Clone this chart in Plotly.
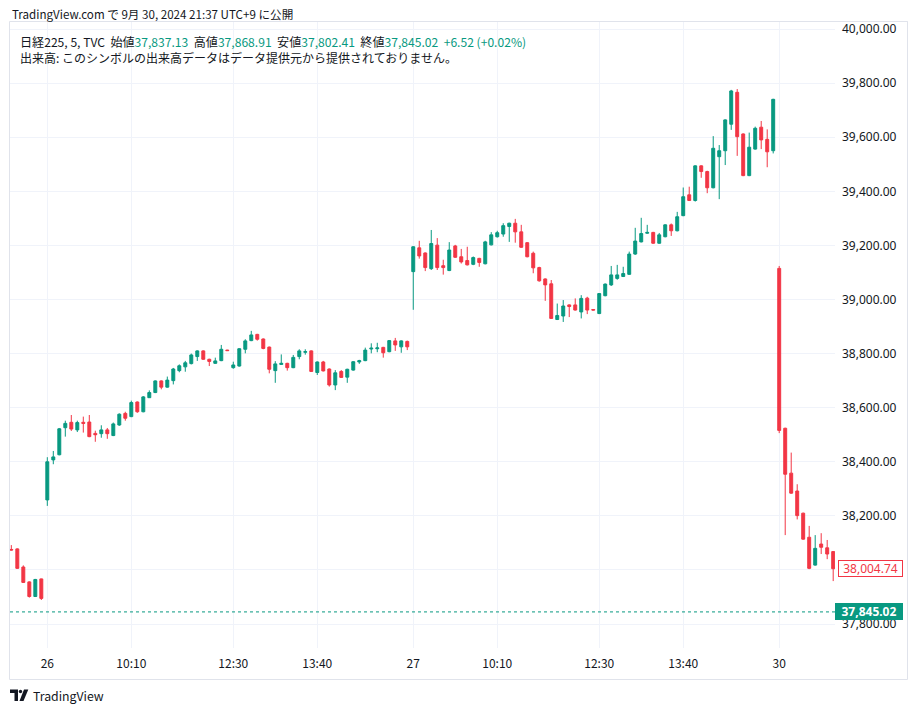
import plotly.graph_objects as go

# ---------------- data ----------------
# sessions (day, list of (start, end) in HH:MM inclusive, 5-min bars)
SESSIONS = [
    (25, [("14:30", "14:55")]),
    (26, [("09:00", "11:30"), ("12:30", "14:55")]),
    (27, [("09:00", "11:30"), ("12:30", "14:55")]),
    (30, [("09:00", "09:45")]),
]

open_ = [
    38076, 38078, 38011, 37956, 37902, 37967,
    38259, 38407, 38426, 38526, 38546, 38518, 38546, 38547, 38505, 38504,
    38518, 38497, 38536, 38579, 38567, 38621, 38585, 38637, 38656, 38699,
    38676, 38700, 38737, 38751, 38763, 38789, 38810, 38779, 38764, 38774,
    38813, 38748, 38754, 38816, 38848, 38871, 38854, 38824, 38737, 38760,
    38764, 38748, 38789, 38805, 38810, 38730, 38769, 38743, 38684, 38734,
    38713, 38739, 38769, 38774, 38817, 38818, 38823, 38807, 38847, 38825,
    38845,
    39103, 39191, 39172, 39114, 39201, 39125, 39107, 39198, 39158, 39144,
    39130, 39152, 39132, 39202, 39232, 39242, 39270, 39282, 39250, 39210,
    39171, 39118, 39076, 39058, 38926, 38939, 38980, 38980, 38954, 39005,
    38963, 38948, 39014, 39054, 39078, 39085, 39093, 39168, 39213, 39245,
    39248, 39208, 39232, 39276, 39254, 39310, 39387, 39366, 39494, 39473,
    39413, 39528, 39550, 39648, 39766, 39612, 39458, 39556, 39637, 39592,
    39550,
    39115, 38524, 38358, 38292, 38210, 38121, 38018, 38096, 38082, 38068,
]
high = [
    38092, 38080, 38017, 37958, 37967, 37968,
    38417, 38440, 38525, 38552, 38573, 38552, 38567, 38573, 38515, 38535,
    38525, 38545, 38579, 38585, 38626, 38623, 38643, 38664, 38701, 38701,
    38715, 38747, 38760, 38773, 38800, 38812, 38812, 38781, 38785, 38832,
    38814, 38770, 38820, 38853, 38884, 38873, 38856, 38826, 38772, 38797,
    38766, 38795, 38816, 38816, 38812, 38771, 38773, 38745, 38739, 38739,
    38744, 38772, 38777, 38822, 38838, 38840, 38825, 38850, 38858, 38849,
    38848,
    39197, 39217, 39174, 39257, 39227, 39147, 39212, 39202, 39187, 39195,
    39159, 39154, 39217, 39249, 39254, 39282, 39284, 39298, 39276, 39212,
    39177, 39121, 39078, 39072, 38985, 38998, 38982, 39004, 39016, 39010,
    38964, 39024, 39059, 39124, 39128, 39121, 39177, 39265, 39302, 39276,
    39250, 39246, 39278, 39281, 39324, 39414, 39417, 39496, 39496, 39476,
    39604, 39571, 39666, 39775, 39778, 39614, 39617, 39639, 39660, 39629,
    39742,
    39124, 38526, 38434, 38317, 38212, 38163, 38129, 38136, 38111, 38070,
]
low = [
    38072, 38004, 37952, 37898, 37900, 37889,
    38237, 38391, 38424, 38493, 38514, 38510, 38508, 38491, 38474, 38489,
    38485, 38495, 38533, 38552, 38565, 38581, 38583, 38636, 38654, 38668,
    38674, 38686, 38731, 38733, 38760, 38773, 38777, 38754, 38762, 38772,
    38810, 38744, 38752, 38801, 38846, 38848, 38816, 38727, 38692, 38758,
    38737, 38746, 38779, 38796, 38732, 38721, 38734, 38678, 38665, 38710,
    38692, 38737, 38762, 38772, 38801, 38805, 38785, 38805, 38810, 38803,
    38813,
    38962, 39151, 39105, 39109, 39109, 39092, 39105, 39154, 39133, 39126,
    39127, 39121, 39130, 39200, 39229, 39232, 39213, 39210, 39191, 39156,
    39097, 39066, 38995, 38928, 38924, 38917, 38935, 38959, 38930, 38946,
    38960, 38946, 39012, 39050, 39073, 39083, 39091, 39165, 39211, 39243,
    39206, 39206, 39230, 39235, 39252, 39308, 39364, 39362, 39450, 39393,
    39411, 39371, 39497, 39627, 39531, 39456, 39456, 39554, 39556, 39489,
    39540,
    38506, 38129, 38282, 38187, 38112, 38003, 38016, 38059, 38040, 37959,
]
close = [
    38074, 38006, 37954, 37902, 37965, 37895,
    38400, 38418, 38522, 38542, 38521, 38545, 38542, 38493, 38500, 38518,
    38504, 38540, 38576, 38561, 38619, 38585, 38640, 38656, 38699, 38676,
    38702, 38743, 38755, 38766, 38795, 38810, 38779, 38771, 38773, 38816,
    38811, 38758, 38818, 38847, 38869, 38853, 38819, 38742, 38762, 38764,
    38748, 38786, 38810, 38807, 38734, 38769, 38736, 38684, 38729, 38712,
    38742, 38770, 38774, 38813, 38820, 38821, 38803, 38848, 38832, 38847,
    38825,
    39195, 39161, 39118, 39207, 39118, 39118, 39183, 39156, 39139, 39128,
    39155, 39137, 39213, 39239, 39247, 39273, 39282, 39250, 39193, 39158,
    39117, 39069, 39054, 38930, 38941, 38976, 38974, 38961, 39004, 38961,
    38961, 39022, 39057, 39091, 39091, 39096, 39168, 39216, 39244, 39248,
    39208, 39239, 39276, 39254, 39306, 39380, 39366, 39494, 39473, 39413,
    39559, 39550, 39664, 39771, 39602, 39458, 39563, 39633, 39590, 39546,
    39740,
    38516, 38354, 38284, 38201, 38114, 38006, 38080, 38084, 38059, 38004.74,
]

tick_times = ["09-26 09:00", "09-26 10:10", "09-26 12:30", "09-26 13:40",
              "09-27 09:00", "09-27 10:10", "09-27 12:30", "09-27 13:40",
              "09-30 09:00"]
tick_labels = ["26", "10:10", "12:30", "13:40", "27", "10:10", "12:30", "13:40", "30"]

last_price = 37845.02
last_visible_close = 38004.74

header_text = "TradingView.com で 9月 30, 2024 21:37 UTC+9 に公開"
UP = "#089981"
DOWN = "#f23645"
TXT = "#131722"
SP = "&nbsp;&nbsp;"
legend_line1 = ("日経225, 5, TVC" + SP + "始値<span style='color:%s'>37,837.13</span>" + SP +
                "高値<span style='color:%s'>37,868.91</span>" + SP +
                "安値<span style='color:%s'>37,802.41</span>" + SP +
                "終値<span style='color:%s'>37,845.02" + SP + "+6.52 (+0.02%%)</span>") % (UP, UP, UP, UP)
legend_line2 = "出来高: このシンボルの出来高データはデータ提供元から提供されておりません。"


def to_min(s):
    h, m = s.split(":")
    return int(h) * 60 + int(m)


times = []
for day, sess in SESSIONS:
    for a, b in sess:
        t = to_min(a)
        while t <= to_min(b):
            times.append("09-%02d %02d:%02d" % (day, t // 60, t % 60))
            t += 5

# ---------------- figure ----------------
W, H = 917, 714
L, R, T, B = 10, 82, 22, 66
PW, PH = W - L - R, H - T - B


def px(x):
    return (x - L) / PW


def py(y):
    return (H - B - y) / PH


FONT = "Noto Sans CJK JP, Noto Sans, sans-serif"
NUMFONT = "Noto Sans, sans-serif"

fig = go.Figure(go.Candlestick(
    x=times, open=open_, high=high, low=low, close=close,
    increasing=dict(line=dict(color=UP, width=1), fillcolor=UP),
    decreasing=dict(line=dict(color=DOWN, width=1), fillcolor=DOWN),
    whiskerwidth=0, hoverinfo="skip", showlegend=False,
))

fig.update_layout(
    width=W, height=H,
    margin=dict(l=L, r=R, t=T, b=B, pad=0),
    paper_bgcolor="white", plot_bgcolor="white",
    font=dict(family=FONT, size=12, color=TXT),
    showlegend=False,
    xaxis=dict(
        type="category", categoryorder="array", categoryarray=times,
        range=[-0.22, 137.3], rangeslider=dict(visible=False),
        tickmode="array", tickvals=tick_times, ticktext=tick_labels,
        showgrid=True, gridcolor="#f0f3fa", gridwidth=1,
        zeroline=False, showline=False, ticks="", ticklabelstandoff=7,
        tickfont=dict(size=12, color=TXT, family=FONT), fixedrange=True,
    ),
    yaxis=dict(
        side="right", range=[37711.6, 40025.9], dtick=200, tick0=0,
        tickformat=",.2f", showgrid=True, gridcolor="#f0f3fa", gridwidth=1,
        zeroline=False, showline=False, ticks="", ticklabelstandoff=6,
        tickfont=dict(size=12, color=TXT, family=NUMFONT), fixedrange=True,
    ),
)

shapes = []
# outer frame
shapes.append(dict(type="rect", xref="paper", yref="paper",
                   x0=px(9.5), x1=px(907.5), y0=py(679.5), y1=py(21.5),
                   line=dict(color="#e0e3eb", width=1), fillcolor="rgba(0,0,0,0)", layer="below"))
# clip the top tick label like the reference
shapes.append(dict(type="rect", xref="paper", yref="paper",
                   x0=px(836), x1=px(907), y0=py(24), y1=py(0),
                   line=dict(width=0), fillcolor="white", layer="above"))
shapes.append(dict(type="line", xref="paper", yref="paper",
                   x0=px(836), x1=px(907.5), y0=py(21.5), y1=py(21.5),
                   line=dict(color="#e0e3eb", width=1), layer="above"))
# last price dotted line
shapes.append(dict(type="line", xref="paper", yref="y", x0=0, x1=1,
                   y0=last_price, y1=last_price,
                   line=dict(color=UP, width=1, dash="dot"), layer="above"))
# TradingView logo
shapes.append(dict(type="path", xref="paper", yref="paper",
                   path="M %f,%f L %f,%f L %f,%f L %f,%f L %f,%f L %f,%f Z" % (
                       px(10), py(689.5), px(18), py(689.5), px(18), py(701),
                       px(14.5), py(701), px(14.5), py(693), px(10), py(693)),
                   line=dict(width=0), fillcolor=TXT))
shapes.append(dict(type="circle", xref="paper", yref="paper",
                   x0=px(18.8), x1=px(22.2), y0=py(693.2), y1=py(689.8),
                   line=dict(width=0), fillcolor=TXT))
shapes.append(dict(type="path", xref="paper", yref="paper",
                   path="M %f,%f L %f,%f L %f,%f L %f,%f Z" % (
                       px(24), py(689.5), px(28.3), py(689.5), px(23.5), py(701), px(19.5), py(701)),
                   line=dict(width=0), fillcolor=TXT))
fig.update_layout(shapes=shapes)

ann = []
ann.append(dict(xref="paper", yref="paper", x=px(10), y=py(14), xanchor="left", yanchor="middle",
                text=header_text, showarrow=False, font=dict(size=11.6, color=TXT, family=FONT)))
ann.append(dict(xref="paper", yref="paper", x=px(18), y=py(41), xanchor="left", yanchor="middle",
                text=legend_line1, showarrow=False, font=dict(size=12.1, color=TXT, family=FONT)))
ann.append(dict(xref="paper", yref="paper", x=px(18), y=py(58), xanchor="left", yanchor="middle",
                text=legend_line2, showarrow=False, font=dict(size=12, color=TXT, family=FONT)))
ann.append(dict(xref="paper", yref="paper", x=px(31), y=py(695.5), xanchor="left", yanchor="middle",
                text="TradingView", showarrow=False, font=dict(size=12.3, color=TXT, family=FONT)))
# price labels on the axis
ann.append(dict(xref="paper", yref="y", x=px(835), y=last_price, xanchor="left", yanchor="middle",
                text="<b>37,845.02</b>", showarrow=False, bgcolor=UP, borderpad=2, borderwidth=0,
                width=64, height=13, align="center",
                font=dict(size=12, color="white", family=NUMFONT)))
ann.append(dict(xref="paper", yref="y", x=px(838), y=last_visible_close, xanchor="left", yanchor="middle",
                text="38,004.74", showarrow=False, bgcolor="white", bordercolor=DOWN, borderwidth=1,
                borderpad=1, width=61, height=13, align="center",
                font=dict(size=12, color=DOWN, family=NUMFONT)))
fig.update_layout(annotations=ann)

fig.write_html("out.html")
